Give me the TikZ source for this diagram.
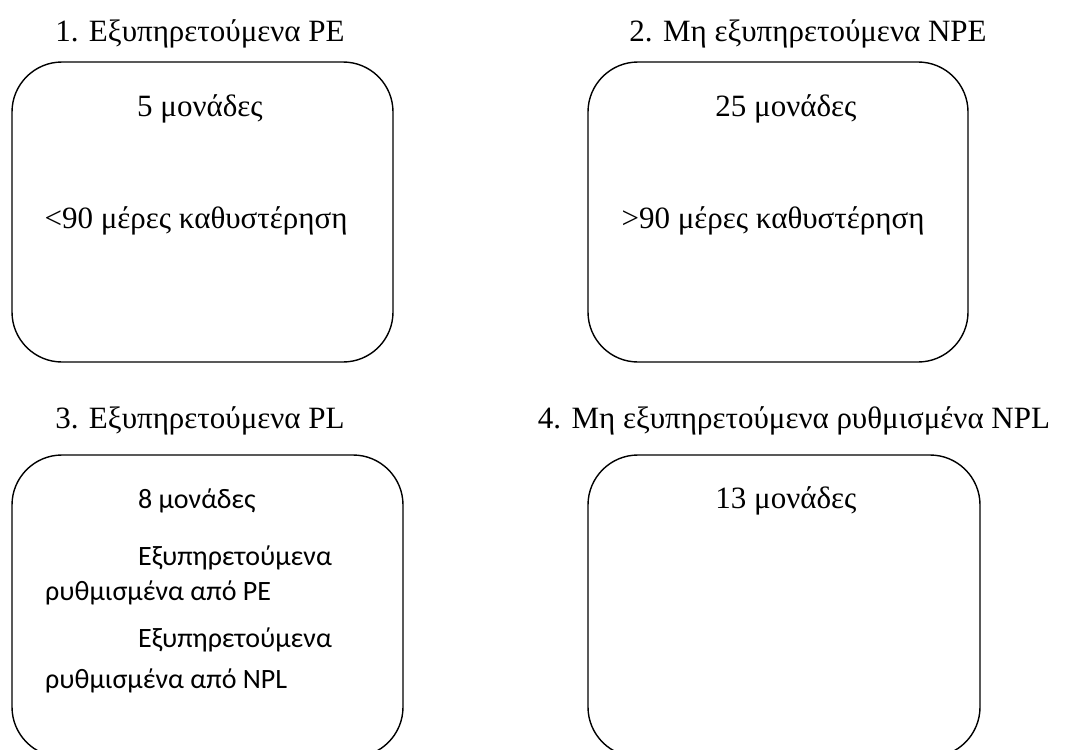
\documentclass[tikz,border=0pt]{standalone}
\usepackage{fontspec}
\setmainfont{Liberation Serif}
\newfontfamily\calib{Carlito}
\begin{document}
\begin{tikzpicture}[x=1pt,y=1pt,
  panel/.style={draw=black,line width=1.4pt,rounded corners=50pt,inner sep=0pt},
  sertxt/.style={font=\fontsize{31}{37}\selectfont,anchor=base,inner sep=0pt},
  santxt/.style={font=\calib\fontsize{28}{35}\selectfont,anchor=base west,inner sep=0pt}]
\useasboundingbox (0,0) rectangle (1067,-749);
\clip (0,0) rectangle (1067,-749);
% boxes
\node[panel,minimum width=381pt,minimum height=300pt] (b1) at (202.5,-212) {};
\node[panel,minimum width=380pt,minimum height=300pt] (b2) at (778,-212) {};
\node[panel,minimum width=391pt,minimum height=302pt] (b3) at (207.5,-606) {};
\node[panel,minimum width=392pt,minimum height=302pt] (b4) at (784,-606) {};
% titles
\node[sertxt] (t1) at (200,-42) {1. Εξυπηρετούμενα PE};
\node[sertxt] (t2) at (808,-42) {2. Μη εξυπηρετούμενα NPE};
\node[sertxt] (t3) at (200,-428) {3. Εξυπηρετούμενα PL};
\node[sertxt] (t4) at (794,-428) {4. Μη εξυπηρετούμενα ρυθμισμένα NPL};
% box 1
\node[sertxt] (u1) at (200,-117) {5 μονάδες};
\node[sertxt] (d1) at (196,-228) {<90 μέρες καθυστέρηση};
% box 2
\node[sertxt] (u2) at (786,-117) {25 μονάδες};
\node[sertxt] (d2) at (773,-228) {>90 μέρες καθυστέρηση};
% box 3
\node[santxt] (u3) at (138,-508) {8 μονάδες};
\node[santxt] (l3a) at (138,-565) {Εξυπηρετούμενα};
\node[santxt] (l3b) at (45,-600) {ρυθμισμένα από PE};
\node[santxt] (l3c) at (138,-647) {Εξυπηρετούμενα};
\node[santxt] (l3d) at (45,-688) {ρυθμισμένα από NPL};
% box 4
\node[sertxt] (u4) at (786,-508) {13 μονάδες};
\end{tikzpicture}
\end{document}
